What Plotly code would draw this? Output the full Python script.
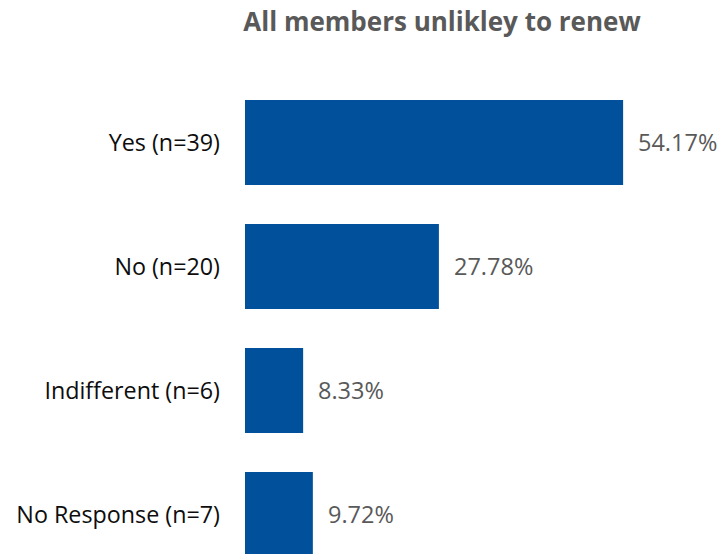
import plotly.graph_objects as go

categories = ["Yes (n=39)", "No (n=20)", "Indifferent (n=6)", "No Response (n=7)"]
percentages = [54.17, 27.78, 8.33, 9.72]

bar_color = "#01509C"
label_color = "#0D0D0D"
value_color = "#595959"
font_family = "'Open Sans', sans-serif"

fig = go.Figure()
fig.add_trace(go.Bar(
    x=percentages,
    y=categories,
    orientation="h",
    marker=dict(color=bar_color, line=dict(width=0)),
    width=0.685,
    hoverinfo="skip",
))

# value labels to the right of each bar
for cat, val in zip(categories, percentages):
    fig.add_annotation(
        x=val, y=cat, text=f"{val:.2f}%",
        showarrow=False, xanchor="left", yanchor="middle",
        xshift=13, font=dict(family=font_family, size=23.5, color=value_color),
    )

fig.update_layout(
    width=723, height=554,
    margin=dict(l=245, r=0, t=60, b=0),
    paper_bgcolor="white", plot_bgcolor="white",
    showlegend=False,
    title=dict(
        text="<b>All members unlikley to renew</b>",
        x=442 / 723, xanchor="center", y=1 - 22 / 554, yanchor="middle",
        font=dict(family=font_family, size=26, color=value_color),
    ),
    xaxis=dict(range=[0, 478 / 6.98], visible=False, fixedrange=True),
    yaxis=dict(
        type="category",
        categoryorder="array", categoryarray=categories,
        range=[3.319, -0.665],
        showgrid=False, zeroline=False, showline=False,
        ticks="", ticklabelstandoff=24,
        tickfont=dict(family=font_family, size=23.3, color=label_color),
    ),
)

fig.write_html("out.html")
